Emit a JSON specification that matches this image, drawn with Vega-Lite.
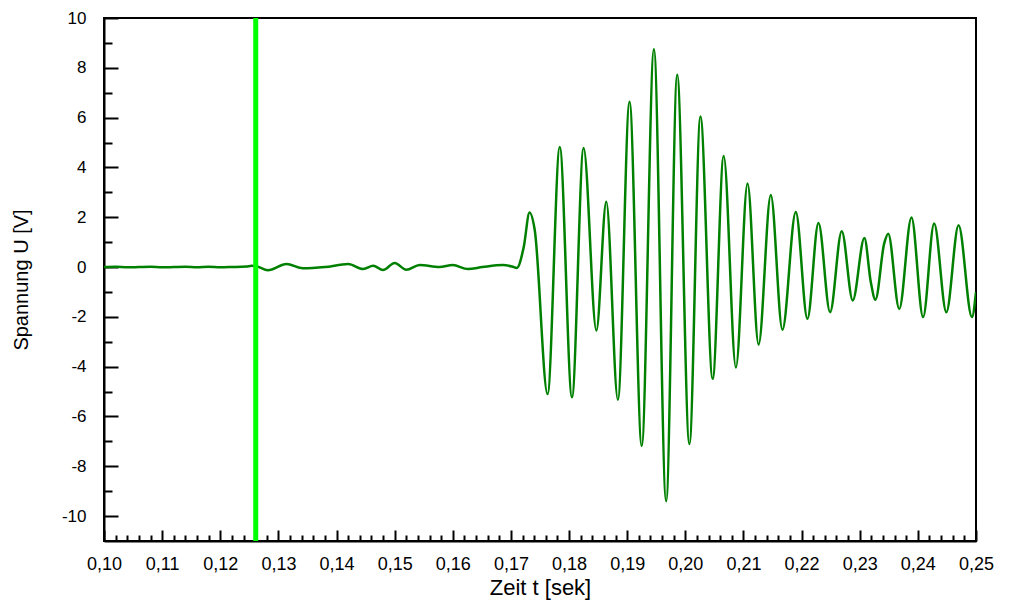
{
  "$schema": "https://vega.github.io/schema/vega-lite/v6.json",
  "autosize": "none",
  "width": 872,
  "height": 523,
  "padding": {"left": 104, "top": 18, "right": 34, "bottom": 62},
  "background": "white",
  "config": {
    "view": {"stroke": "black", "strokeWidth": 2},
    "font": "Liberation Sans"
  },
  "datasets": {
    "signal": [
      {"t": 0.1000, "u": 0.0},
      {"t": 0.1020, "u": 0.01},
      {"t": 0.1040, "u": -0.01},
      {"t": 0.1060, "u": 0.0},
      {"t": 0.1080, "u": 0.01},
      {"t": 0.1100, "u": -0.01},
      {"t": 0.1120, "u": 0.0},
      {"t": 0.1140, "u": 0.01},
      {"t": 0.1160, "u": -0.01},
      {"t": 0.1180, "u": 0.01},
      {"t": 0.1200, "u": -0.01},
      {"t": 0.1220, "u": 0.0},
      {"t": 0.1245, "u": 0.02},
      {"t": 0.1254, "u": 0.05},
      {"t": 0.1262, "u": 0.03},
      {"t": 0.1282, "u": -0.13},
      {"t": 0.1314, "u": 0.12},
      {"t": 0.1342, "u": -0.05},
      {"t": 0.1380, "u": 0.0},
      {"t": 0.1420, "u": 0.12},
      {"t": 0.1446, "u": -0.08},
      {"t": 0.1463, "u": 0.05},
      {"t": 0.1480, "u": -0.12},
      {"t": 0.1500, "u": 0.16},
      {"t": 0.1520, "u": -0.11},
      {"t": 0.1543, "u": 0.08},
      {"t": 0.1577, "u": 0.0},
      {"t": 0.1600, "u": 0.08},
      {"t": 0.1626, "u": -0.08},
      {"t": 0.1651, "u": 0.0},
      {"t": 0.1686, "u": 0.08},
      {"t": 0.1702, "u": 0.02},
      {"t": 0.1710, "u": -0.04},
      {"t": 0.1722, "u": 0.8},
      {"t": 0.1732, "u": 2.19},
      {"t": 0.1741, "u": 1.48},
      {"t": 0.1763, "u": -5.10},
      {"t": 0.1784, "u": 4.82},
      {"t": 0.1805, "u": -5.23},
      {"t": 0.1825, "u": 4.78},
      {"t": 0.1847, "u": -2.55},
      {"t": 0.1864, "u": 2.62},
      {"t": 0.1884, "u": -5.33},
      {"t": 0.1904, "u": 6.64},
      {"t": 0.1925, "u": -7.18},
      {"t": 0.1946, "u": 8.75},
      {"t": 0.1967, "u": -9.40},
      {"t": 0.1986, "u": 7.72},
      {"t": 0.2007, "u": -7.11},
      {"t": 0.2026, "u": 6.04},
      {"t": 0.2047, "u": -4.49},
      {"t": 0.2066, "u": 4.46},
      {"t": 0.2087, "u": -4.03},
      {"t": 0.2107, "u": 3.35},
      {"t": 0.2126, "u": -3.11},
      {"t": 0.2147, "u": 2.89},
      {"t": 0.2167, "u": -2.52},
      {"t": 0.2190, "u": 2.21},
      {"t": 0.2210, "u": -2.08},
      {"t": 0.2229, "u": 1.77},
      {"t": 0.2249, "u": -1.81},
      {"t": 0.2269, "u": 1.44},
      {"t": 0.2288, "u": -1.34},
      {"t": 0.2308, "u": 1.17},
      {"t": 0.2319, "u": -0.60},
      {"t": 0.2327, "u": -1.31},
      {"t": 0.2342, "u": 0.94},
      {"t": 0.2349, "u": 1.34},
      {"t": 0.2368, "u": -1.68},
      {"t": 0.2389, "u": 1.99},
      {"t": 0.2409, "u": -2.01},
      {"t": 0.2428, "u": 1.75},
      {"t": 0.2449, "u": -1.81},
      {"t": 0.2470, "u": 1.68},
      {"t": 0.2493, "u": -2.01},
      {"t": 0.2500, "u": -1.0}
    ],
    "marker": [{"t": 0.1261}]
  },
  "resolve": {"axis": {"x": "independent", "y": "independent"}},
  "layer": [
    {
      "data": {"name": "signal"},
      "mark": {"type": "point", "opacity": 0},
      "encoding": {
        "x": {
          "field": "t", "type": "quantitative",
          "scale": {"domain": [0.1, 0.25], "nice": false, "zero": false},
          "axis": {
            "orient": "bottom",
            "values": [0.102,0.104,0.106,0.108,0.112,0.114,0.116,0.118,0.122,0.124,0.126,0.128,0.132,0.134,0.136,0.138,0.142,0.144,0.146,0.148,0.152,0.154,0.156,0.158,0.162,0.164,0.166,0.168,0.172,0.174,0.176,0.178,0.182,0.184,0.186,0.188,0.192,0.194,0.196,0.198,0.202,0.204,0.206,0.208,0.212,0.214,0.216,0.218,0.222,0.224,0.226,0.228,0.232,0.234,0.236,0.238,0.242,0.244,0.246,0.248],
            "tickSize": -6,
            "tickWidth": 2,
            "tickColor": "black",
            "domain": false,
            "grid": false,
            "labels": false,
            "title": null
          }
        },
        "y": {
          "field": "u", "type": "quantitative",
          "scale": {"domain": [-11, 10], "nice": false, "zero": false},
          "axis": {
            "orient": "left",
            "values": [-9,-7,-5,-3,-1,1,3,5,7,9],
            "tickSize": -8,
            "tickWidth": 2,
            "tickColor": "black",
            "domain": false,
            "grid": false,
            "labels": false,
            "title": null
          }
        }
      }
    },
    {
      "data": {"name": "signal"},
      "mark": {"type": "line", "stroke": "#008000", "strokeWidth": 2.5, "interpolate": "monotone", "clip": true},
      "encoding": {
        "x": {
          "field": "t", "type": "quantitative",
          "axis": {
            "orient": "bottom",
            "values": [0.1,0.11,0.12,0.13,0.14,0.15,0.16,0.17,0.18,0.19,0.2,0.21,0.22,0.23,0.24,0.25],
            "tickSize": -11,
            "tickWidth": 2,
            "tickColor": "black",
            "domainColor": "black",
            "domainWidth": 2,
            "grid": false,
            "labelExpr": "replace(format(datum.value, '.2f'), '.', ',')",
            "labelFont": "Liberation Sans",
            "labelFontSize": 18,
            "labelColor": "black",
            "labelPadding": 25,
            "labelOverlap": false,
            "labelFlush": false,
            "labelBaseline": "top",
            "title": "Zeit t [sek]",
            "titleFont": "Liberation Sans",
            "titleFontSize": 22,
            "titleFontWeight": "normal",
            "titleColor": "black",
            "titlePadding": 4
          }
        },
        "y": {
          "field": "u", "type": "quantitative",
          "axis": {
            "orient": "left",
            "values": [-10,-8,-6,-4,-2,0,2,4,6,8,10],
            "tickSize": -14,
            "tickWidth": 2,
            "tickColor": "black",
            "domainColor": "black",
            "domainWidth": 2,
            "grid": false,
            "labelExpr": "'' + datum.value",
            "labelFont": "Liberation Sans",
            "labelFontSize": 17,
            "labelColor": "black",
            "labelPadding": 32,
            "labelOverlap": false,
            "labelFlush": false,
            "title": "Spannung U [V]",
            "titleFont": "Liberation Sans",
            "titleFontSize": 20,
            "titleFontWeight": "normal",
            "titleColor": "black",
            "titlePadding": 30
          }
        }
      }
    },
    {
      "data": {"name": "marker"},
      "mark": {"type": "rule", "stroke": "#00ff00", "strokeWidth": 5},
      "encoding": {
        "x": {"field": "t", "type": "quantitative", "axis": null}
      }
    }
  ]
}
